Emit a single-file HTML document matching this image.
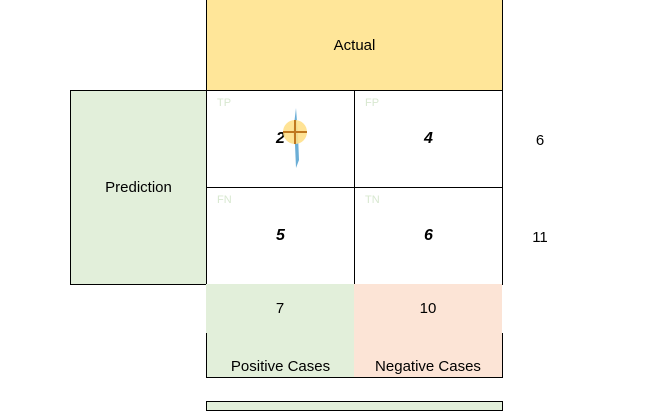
<!DOCTYPE html>
<html><head><meta charset="utf-8"><style>
body{margin:0;width:654px;height:405px;background:#fff;position:relative;overflow:hidden;font-family:"Liberation Sans",Calibri,sans-serif;}
div{position:absolute;box-sizing:border-box;}
.t{display:flex;align-items:center;justify-content:center;font-size:15px;color:#000;}
.b{border:1px solid #000;}
.lab{font-size:11px;color:#d8e8d0;}
.num{font-weight:bold;font-style:italic;font-size:16px;}
</style></head><body>
<div class="t" style="left:206px;top:0;width:297px;height:91px;background:#ffe699;border-left:1px solid #000;border-right:1px solid #000;border-bottom:1px solid #000;">Actual</div>
<div class="t b" style="left:70px;top:90px;width:137px;height:195px;background:#e2efda;">Prediction</div>
<div class="t b" style="left:206px;top:90px;width:149px;height:98px;"><span class="num" style="position:relative;left:0px;">2</span></div>
<div class="t b" style="left:354px;top:90px;width:149px;height:98px;"><span class="num">4</span></div>
<div class="t b" style="left:206px;top:187px;width:149px;height:98px;"><span class="num">5</span></div>
<div class="t b" style="left:354px;top:187px;width:149px;height:98px;"><span class="num">6</span></div>
<div class="lab" style="left:217px;top:97px;">TP</div>
<div class="lab" style="left:365px;top:97px;">FP</div>
<div class="lab" style="left:217px;top:194px;">FN</div>
<div class="lab" style="left:365px;top:194px;">TN</div>
<svg style="position:absolute;left:280px;top:105px" width="30" height="65">
<polygon points="16,3 18,30 19,55 16,63 15,40 13,28" fill="#6baed6"/>
<circle cx="15" cy="27" r="12" fill="#ffe08a" opacity="0.9"/>
<line x1="3" y1="27" x2="27" y2="27" stroke="#c07820" stroke-width="2"/>
<line x1="15" y1="15" x2="15" y2="39" stroke="#c07820" stroke-width="2"/>
</svg>
<div class="t" style="left:520px;top:125px;width:40px;height:30px;">6</div>
<div class="t" style="left:520px;top:222px;width:40px;height:30px;">11</div>
<div class="t" style="left:206px;top:284px;width:148px;height:49px;background:#e2efda;">7</div>
<div class="t" style="left:354px;top:284px;width:148px;height:49px;background:#fce4d6;">10</div>
<div class="t" style="left:206px;top:333px;width:149px;height:45px;background:#e2efda;border-left:1px solid #000;border-right:1px solid #000;border-bottom:1px solid #000;padding-top:22px;">Positive Cases</div>
<div class="t" style="left:354px;top:333px;width:149px;height:45px;background:#fce4d6;border-right:1px solid #000;border-bottom:1px solid #000;padding-top:22px;">Negative Cases</div>
<div class="b" style="left:206px;top:401px;width:297px;height:10px;background:#e2efda;"></div>
</body></html>
